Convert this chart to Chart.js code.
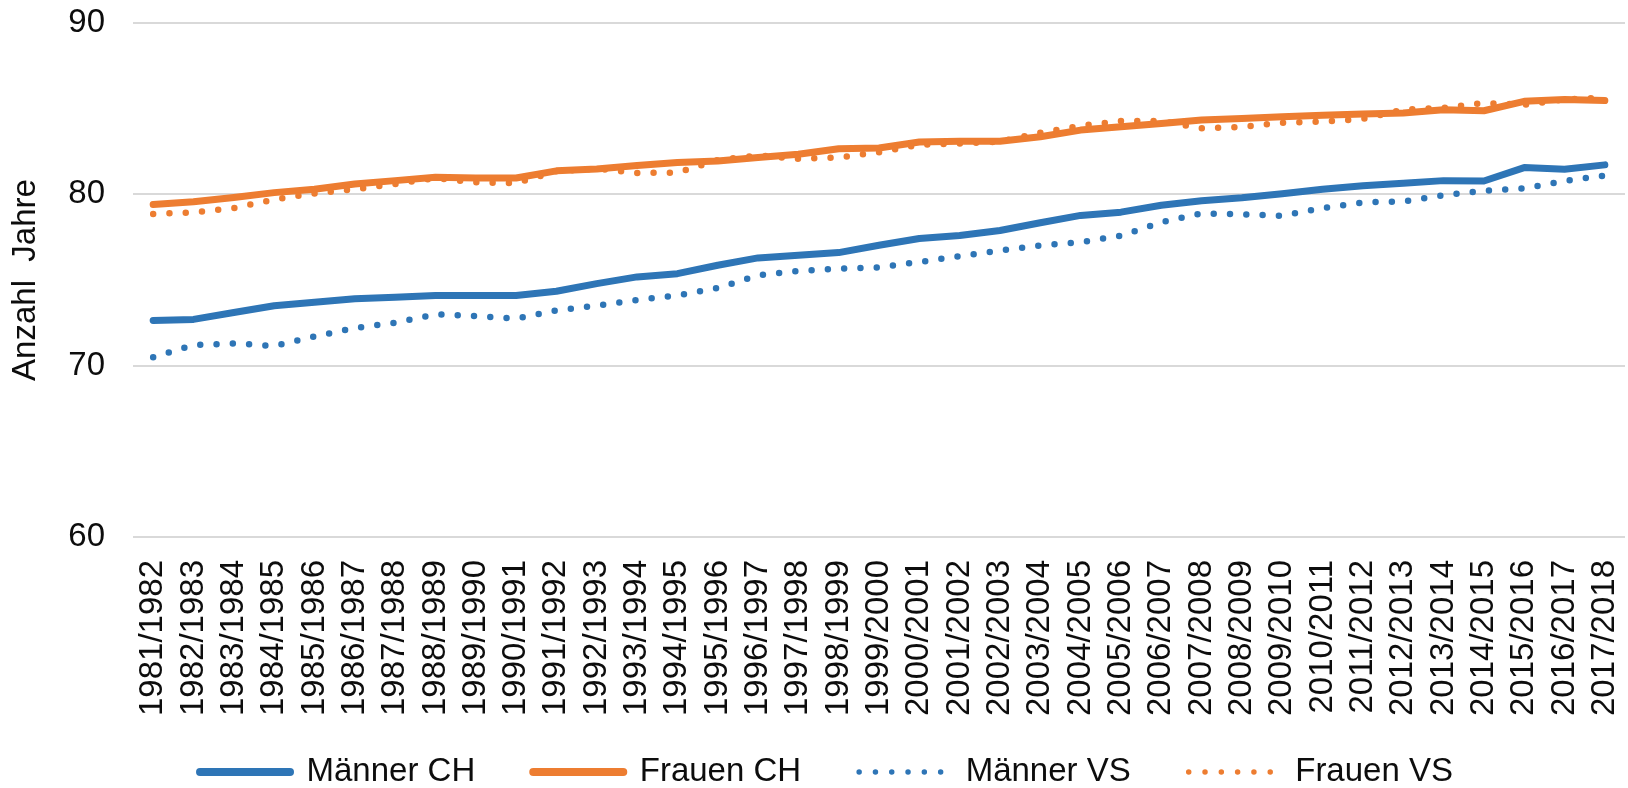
<!DOCTYPE html>
<html lang="de">
<head>
<meta charset="utf-8">
<title>Lebenserwartung CH / VS</title>
<script src="https://cdn.jsdelivr.net/npm/chart.js@4.4.1/dist/chart.umd.min.js"></script>
<style>
  html, body { margin: 0; padding: 0; background: #fff; }
  #wrap { width: 1628px; height: 788px; }
</style>
</head>
<body>
<div id="wrap"><canvas id="lifeChart" width="1628" height="788"></canvas></div>
<script>
/* ---------------------------------------------------------------------------
    DATA
--------------------------------------------------------------------------- */

const periods = [
  '1981/1982', '1982/1983', '1983/1984', '1984/1985', '1985/1986', '1986/1987',
  '1987/1988', '1988/1989', '1989/1990', '1990/1991', '1991/1992', '1992/1993',
  '1993/1994', '1994/1995', '1995/1996', '1996/1997', '1997/1998', '1998/1999',
  '1999/2000', '2000/2001', '2001/2002', '2002/2003', '2003/2004', '2004/2005',
  '2005/2006', '2006/2007', '2007/2008', '2008/2009', '2009/2010', '2010/2011',
  '2011/2012', '2012/2013', '2013/2014', '2014/2015', '2015/2016', '2016/2017',
  '2017/2018'
];

const maennerCH = [
  72.64, 72.7, 73.1, 73.5, 73.7, 73.9, 74.0, 74.1, 74.1, 74.1, 74.34, 74.79,
  75.18, 75.37, 75.86, 76.29, 76.45, 76.6, 77.03, 77.42, 77.6, 77.89, 78.34,
  78.77, 78.96, 79.36, 79.63, 79.8, 80.04, 80.3, 80.5, 80.64, 80.8, 80.78,
  81.56, 81.46, 81.72
];

const frauenCH = [
  79.41, 79.57, 79.82, 80.1, 80.3, 80.6, 80.8, 81.0, 80.95, 80.95, 81.37, 81.48,
  81.68, 81.86, 81.95, 82.15, 82.34, 82.66, 82.7, 83.05, 83.1, 83.1, 83.36,
  83.75, 83.95, 84.14, 84.34, 84.43, 84.53, 84.61, 84.69, 84.75, 84.94, 84.88,
  85.43, 85.53, 85.47
];

const maennerVS = [
  70.49, 71.2, 71.3, 71.15, 71.7, 72.2, 72.5, 73.0, 72.9, 72.75, 73.22, 73.5,
  73.83, 74.1, 74.53, 75.27, 75.53, 75.66, 75.74, 76.05, 76.39, 76.72, 77.01,
  77.21, 77.58, 78.38, 78.89, 78.83, 78.75, 79.2, 79.53, 79.59, 79.94, 80.21,
  80.35, 80.78, 81.1
];

const frauenVS = [
  78.85, 78.95, 79.2, 79.7, 80.05, 80.3, 80.6, 80.95, 80.7, 80.65, 81.35, 81.5,
  81.25, 81.27, 82.0, 82.27, 82.07, 82.15, 82.46, 82.9, 82.97, 83.07, 83.6,
  84.0, 84.28, 84.28, 83.85, 83.93, 84.18, 84.24, 84.4, 84.94, 85.04, 85.33,
  85.23, 85.53, 85.66
];

const yTicks = [60, 70, 80, 90];

/* ---------------------------------------------------------------------------
    STYLE
--------------------------------------------------------------------------- */

const FONT = '"Liberation Sans", Arial, sans-serif';
const BLUE = '#2E75B6';
const ORANGE = '#ED7D31';
const TEXT = '#0d0d0d';

const solid = (label, data, color, order) => ({
  label, data, order,
  borderColor: color,
  backgroundColor: color,
  borderWidth: 7,
  borderCapStyle: 'round',
  borderJoinStyle: 'round',
  pointRadius: 0,
  tension: 0
});

// Excel-like "round dot" line
const dotted = (label, data, color, order) => ({
  ...solid(label, data, color, order),
  borderWidth: 6.5,
  borderDash: [0, 16.3]
});

// Excel draws later series on top, Chart.js draws higher order first
const datasets = [
  solid('Männer CH', maennerCH, BLUE, 4),
  solid('Frauen CH', frauenCH, ORANGE, 3),
  dotted('Männer VS', maennerVS, BLUE, 2),
  dotted('Frauen VS', frauenVS, ORANGE, 1)
];

/* ---------------------------------------------------------------------------
    CHART
--------------------------------------------------------------------------- */

// Legend entries: keep the dataset line style (dash, cap, width) in the key
const legendLabels = (chart) =>
  Chart.defaults.plugins.legend.labels.generateLabels(chart)
    .sort((a, b) => a.datasetIndex - b.datasetIndex)
    .map((item) => {
      const ds = chart.data.datasets[item.datasetIndex];
      return {
        ...item,
        strokeStyle: ds.borderColor,
        fillStyle: ds.borderColor,
        lineWidth: ds.borderDash ? 5.5 : 8,
        lineDash: ds.borderDash || [],
        lineCap: 'round'
      };
    });

// The legend padding doubles as the gap between entries; pull the row back up
// (only the top moves, so the legend's clip box still reaches the canvas bottom)
const LEGEND_PAD = 58;
const legendNudge = {
  id: 'legendNudge',
  afterLayout: (chart) => {
    const legend = chart.legend;
    legend.top -= LEGEND_PAD - 38.5;
    legend.bottom = chart.height;
    legend.left += 14;
    legend.right += 14;
  }
};

const ctx = document.getElementById('lifeChart').getContext('2d');

new Chart(ctx, {
  type: 'line',
  data: { labels: periods, datasets },
  plugins: [legendNudge],
  options: {
    responsive: false,
    animation: false,
    layout: { padding: { top: 23, right: 3, bottom: 0, left: 0 } },
    plugins: {
      tooltip: { enabled: false },
      legend: {
        position: 'bottom',
        align: 'center',
        maxHeight: 71,
        labels: {
          usePointStyle: true,
          pointStyle: 'line',
          pointStyleWidth: 90,
          boxHeight: 8,
          padding: LEGEND_PAD,
          color: TEXT,
          font: { family: FONT, size: 33 },
          generateLabels: legendLabels
        }
      }
    },
    scales: {
      x: {
        offset: true,
        grid: { display: false, drawTicks: false },
        border: { display: false },
        ticks: {
          autoSkip: false,
          minRotation: 90,
          maxRotation: 90,
          padding: 23,
          color: TEXT,
          font: { family: FONT, size: 33 }
        },
        afterFit: (scale) => {
          scale.height = 180;
          scale.paddingLeft = 0;
          scale.paddingRight = 0;
        }
      },
      y: {
        min: 60,
        max: 90,
        afterBuildTicks: (scale) => {
          scale.ticks = yTicks.map((value) => ({ value }));
        },
        grid: { color: '#d9d9d9', lineWidth: 2, drawTicks: false },
        border: { display: false },
        ticks: {
          padding: 28,
          color: TEXT,
          font: { family: FONT, size: 33 }
        },
        title: {
          display: true,
          text: 'Anzahl  Jahre',
          color: TEXT,
          font: { family: FONT, size: 33 },
          padding: { top: 6, bottom: 0 }
        },
        afterFit: (scale) => {
          scale.width = 133;
          scale.paddingTop = 0;
          scale.paddingBottom = 0;
        }
      }
    }
  }
});
</script>
</body>
</html>
